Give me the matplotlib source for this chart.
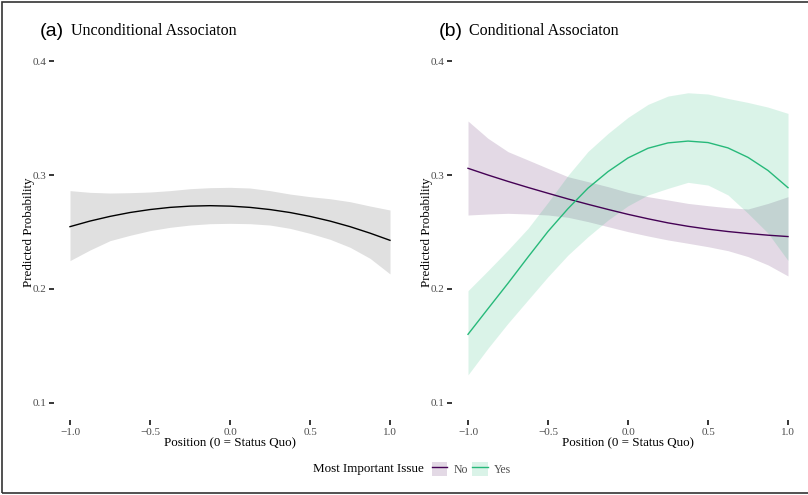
import matplotlib
matplotlib.use("Agg")
import matplotlib.pyplot as plt
from matplotlib.patches import Patch, Rectangle
from matplotlib.lines import Line2D

plt.rcParams['font.family'] = ['Liberation Serif', 'DejaVu Serif']

position = [-1.0, -0.875, -0.75, -0.625, -0.5, -0.375, -0.25, -0.125, 0.0,
            0.125, 0.25, 0.375, 0.5, 0.625, 0.75, 0.875, 1.0]

# (a) unconditional association
uncond_fit = [0.2547, 0.2596, 0.2637, 0.2671, 0.2697, 0.2716, 0.2727, 0.2731, 0.2727,
              0.2716, 0.2697, 0.2671, 0.2637, 0.2596, 0.2547, 0.2490, 0.2427]
uncond_lo = [0.2249, 0.2342, 0.2424, 0.2471, 0.2512, 0.2541, 0.2561, 0.2573, 0.2576,
             0.2573, 0.2561, 0.2532, 0.2488, 0.2436, 0.2366, 0.2269, 0.2132]
uncond_hi = [0.2863, 0.2848, 0.2842, 0.2845, 0.2851, 0.2863, 0.2880, 0.2889, 0.2892,
             0.2886, 0.2863, 0.2833, 0.2810, 0.2792, 0.2766, 0.2728, 0.2693]

# (b) conditional association, by most important issue
no_fit = [0.3059, 0.3000, 0.2944, 0.2891, 0.2840, 0.2790, 0.2743, 0.2698, 0.2655,
          0.2616, 0.2580, 0.2550, 0.2525, 0.2504, 0.2487, 0.2472, 0.2460]
no_lo = [0.2649, 0.2658, 0.2664, 0.2658, 0.2649, 0.2629, 0.2591, 0.2547, 0.2503,
         0.2465, 0.2430, 0.2401, 0.2371, 0.2336, 0.2284, 0.2211, 0.2114]
no_hi = [0.3474, 0.3322, 0.3205, 0.3132, 0.3058, 0.2985, 0.2942, 0.2898, 0.2848,
         0.2810, 0.2781, 0.2751, 0.2731, 0.2713, 0.2702, 0.2751, 0.2810]

yes_fit = [0.1602, 0.1827, 0.2050, 0.2280, 0.2505, 0.2705, 0.2885, 0.3030, 0.3150,
           0.3235, 0.3282, 0.3298, 0.3285, 0.3238, 0.3155, 0.3040, 0.2889]
yes_lo = [0.1246, 0.1480, 0.1699, 0.1904, 0.2108, 0.2298, 0.2459, 0.2605, 0.2730,
          0.2825, 0.2883, 0.2936, 0.2912, 0.2825, 0.2664, 0.2490, 0.2250]
yes_hi = [0.1985, 0.2161, 0.2342, 0.2532, 0.2760, 0.2997, 0.3207, 0.3365, 0.3506,
          0.3620, 0.3693, 0.3722, 0.3711, 0.3672, 0.3637, 0.3596, 0.3541]

groups = ['No', 'Yes']
purple = '#440154'
green = '#27B97A'

xticks = [-1.0, -0.5, 0.0, 0.5, 1.0]
yticks = [0.1, 0.2, 0.3, 0.4]


def style_axis(ax):
    for s in ax.spines.values():
        s.set_visible(False)
    ax.set_xlim(-1.1, 1.1)
    ax.set_ylim(0.085, 0.415)
    ax.set_xticks(xticks)
    ax.set_xticklabels([f"{t:.1f}".replace('-', '\u2212') for t in xticks])
    ax.set_yticks(yticks)
    ax.set_yticklabels([f"{t:.1f}" for t in yticks])
    ax.tick_params(direction='out', length=3.7, width=1.1, color='black',
                   labelcolor='#4d4d4d', labelsize=8, pad=2)
    ax.set_xlabel('Position (0 = Status Quo)', fontsize=9.4, labelpad=0)
    ax.set_ylabel('Predicted Probability', fontsize=9.4)
    ax.yaxis.set_label_coords(-0.053, 0.5)


fig = plt.figure(figsize=(8.08, 4.95), dpi=100)
ax1 = fig.add_axes([54 / 808, 75 / 495, 352 / 808, 376 / 495])
ax2 = fig.add_axes([452 / 808, 75 / 495, 352 / 808, 376 / 495])

ax1.fill_between(position, uncond_lo, uncond_hi, color='#e0e0e0', lw=0)
ax1.plot(position, uncond_fit, color='black', lw=1.0)
style_axis(ax1)

ax2.fill_between(position, no_lo, no_hi, color=purple, alpha=0.15, lw=0)
ax2.fill_between(position, yes_lo, yes_hi, color=green, alpha=0.17, lw=0)
ax2.plot(position, no_fit, color=purple, lw=1.0)
ax2.plot(position, yes_fit, color=green, lw=1.0)
style_axis(ax2)

# panel titles
fig.text(40 / 808, 1 - 31 / 495, '(a)', family='Liberation Sans', fontsize=14, va='center')
fig.text(71 / 808, 1 - 31 / 495, 'Unconditional Associaton', fontsize=11.5, va='center')
fig.text(439 / 808, 1 - 31 / 495, '(b)', family='Liberation Sans', fontsize=14, va='center')
fig.text(469 / 808, 1 - 31 / 495, 'Conditional Associaton', fontsize=11.5, va='center')

# legend at the bottom
fig.text(313 / 808, 1 - 469 / 495, 'Most Important Issue', fontsize=9.4, va='center')
handles = [(Patch(facecolor=purple, alpha=0.15, edgecolor='none'), Line2D([], [], color=purple, lw=1.0)),
           (Patch(facecolor=green, alpha=0.17, edgecolor='none'), Line2D([], [], color=green, lw=1.0))]
leg = fig.legend(handles, groups, loc='center left', bbox_to_anchor=(432 / 808, 1 - 469 / 495),
                 ncol=2, frameon=False, fontsize=8.5, handlelength=1.3, handleheight=1.5,
                 columnspacing=0.4, handletextpad=0.5, borderpad=0, borderaxespad=0)
for t in leg.get_texts():
    t.set_color('#4d4d4d')

fig.patches.append(Rectangle((0.0025, 0.004), 1.1, 0.992, transform=fig.transFigure,
                             fill=False, edgecolor='#333333', lw=1.2))

fig.savefig('out.png', dpi=100)
